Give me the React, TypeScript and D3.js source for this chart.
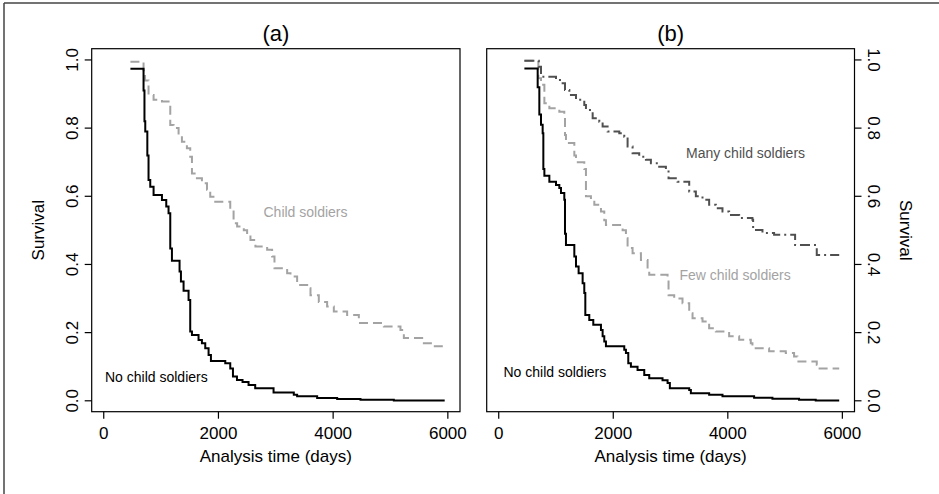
import React from "react";
import * as d3 from "d3";

// ---------- data (Kaplan-Meier step curves: time in days, survival after that time) ----------
const xTicks = [0, 2000, 4000, 6000];
const yTicks = [0, 0.2, 0.4, 0.6, 0.8, 1.0];
const END_TIME = 5945;

// Panel (a)
const noA_t = [465, 694, 710, 724, 760, 781, 811, 869, 1015, 1090, 1130, 1160, 1189, 1322, 1346, 1392, 1479, 1508, 1538, 1653, 1712, 1770, 1828, 1869, 2119, 2206, 2253, 2323, 2420, 2525, 2641, 2961, 3314, 3372, 3721, 4070, 4477, 5058];
const noA_s = [0.974, 0.91, 0.82, 0.79, 0.72, 0.648, 0.628, 0.604, 0.589, 0.57, 0.55, 0.447, 0.411, 0.379, 0.35, 0.323, 0.296, 0.203, 0.193, 0.178, 0.169, 0.154, 0.134, 0.117, 0.11, 0.095, 0.071, 0.061, 0.055, 0.046, 0.037, 0.024, 0.018, 0.013, 0.008, 0.005, 0.003, 0.001];

const csA_t = [465, 694, 720, 781, 869, 1015, 1130, 1160, 1218, 1305, 1363, 1450, 1508, 1538, 1625, 1712, 1800, 1857, 1944, 2206, 2264, 2326, 2442, 2500, 2558, 2645, 2849, 2936, 2977, 3198, 3256, 3372, 3547, 3605, 3750, 3895, 4012, 4244, 4448, 4884, 5174, 5233, 5552, 5727];
const csA_s = [0.995, 0.97, 0.94, 0.897, 0.883, 0.878, 0.87, 0.809, 0.8, 0.78, 0.76, 0.741, 0.716, 0.667, 0.653, 0.638, 0.619, 0.599, 0.584, 0.56, 0.521, 0.511, 0.5, 0.487, 0.472, 0.453, 0.443, 0.423, 0.389, 0.374, 0.365, 0.34, 0.33, 0.31, 0.29, 0.277, 0.262, 0.252, 0.228, 0.218, 0.208, 0.184, 0.169, 0.16];

// Panel (b)
const noB_t = [448, 680, 709, 738, 767, 779, 797, 884, 1000, 1058, 1087, 1145, 1157, 1174, 1320, 1349, 1395, 1465, 1494, 1512, 1581, 1651, 1785, 1814, 1843, 1872, 2192, 2221, 2262, 2308, 2424, 2541, 2628, 2860, 2948, 2988, 3326, 3355, 3674, 3907, 4459, 4779, 5244, 5535];
const noB_s = [0.975, 0.92, 0.84, 0.81, 0.785, 0.68, 0.66, 0.643, 0.633, 0.624, 0.61, 0.59, 0.49, 0.457, 0.423, 0.394, 0.374, 0.345, 0.316, 0.252, 0.237, 0.223, 0.208, 0.189, 0.174, 0.16, 0.15, 0.14, 0.11, 0.1, 0.09, 0.076, 0.066, 0.06, 0.052, 0.037, 0.032, 0.022, 0.018, 0.013, 0.009, 0.006, 0.003, 0.001];

const fewB_t = [448, 692, 738, 797, 884, 1058, 1145, 1157, 1174, 1320, 1349, 1494, 1523, 1610, 1669, 1785, 1843, 1872, 2163, 2221, 2250, 2337, 2483, 2599, 2628, 2948, 2965, 3064, 3209, 3326, 3384, 3558, 3674, 3791, 4023, 4198, 4401, 4430, 4721, 5012, 5157, 5215, 5553, 5564];
const fewB_s = [0.998, 0.946, 0.927, 0.873, 0.858, 0.848, 0.839, 0.78, 0.756, 0.72, 0.7, 0.68, 0.6, 0.59, 0.575, 0.555, 0.53, 0.516, 0.5, 0.477, 0.448, 0.433, 0.413, 0.384, 0.37, 0.36, 0.31, 0.3, 0.286, 0.257, 0.242, 0.233, 0.213, 0.203, 0.189, 0.179, 0.169, 0.154, 0.145, 0.14, 0.13, 0.115, 0.106, 0.095];

const manyB_t = [448, 700, 738, 1000, 1116, 1157, 1233, 1349, 1494, 1523, 1640, 1756, 1814, 1901, 2105, 2192, 2250, 2337, 2453, 2570, 2657, 2802, 2919, 2965, 3122, 3326, 3442, 3558, 3674, 3791, 3907, 4023, 4198, 4430, 4442, 4605, 4808, 5175, 5553];
const manyB_s = [0.998, 0.98, 0.951, 0.941, 0.932, 0.912, 0.897, 0.883, 0.868, 0.853, 0.829, 0.819, 0.805, 0.79, 0.785, 0.775, 0.746, 0.726, 0.716, 0.707, 0.697, 0.687, 0.677, 0.653, 0.643, 0.614, 0.6, 0.59, 0.575, 0.565, 0.555, 0.545, 0.536, 0.531, 0.501, 0.492, 0.487, 0.457, 0.428];

// ---------- layout ----------
const W = 939;
const H = 494;
const FONT = "'Liberation Sans', Arial, Helvetica, sans-serif";
const BOX_TOP = 48.7;
const BOX_BOTTOM = 411.7;
const X_DOMAIN: [number, number] = [-210, 6212];

type Series = { t: number[]; s: number[]; color: string; dash?: string; width: number };

function stepPoints(t: number[], s: number[]): [number, number][] {
  const pts: [number, number][] = t.map((ti, i) => [ti, s[i]]);
  pts.push([END_TIME, s[s.length - 1]]);
  return pts;
}

const yScale = d3.scaleLinear().domain([-0.032, 1.033]).range([BOX_BOTTOM, BOX_TOP]);

function Panel({
  left,
  right,
  title,
  side,
  series,
  labels,
}: {
  left: number;
  right: number;
  title: string;
  side: "left" | "right";
  series: Series[];
  labels: { text: string; x: number; y: number; color: string }[];
}) {
  const x = d3.scaleLinear().domain(X_DOMAIN).range([left, right]);
  const y = yScale;
  const line = d3
    .line<[number, number]>()
    .x((d) => x(d[0]))
    .y((d) => y(d[1]))
    .curve(d3.curveStepAfter);
  const cx = (left + right) / 2;
  const cy = (BOX_TOP + BOX_BOTTOM) / 2;
  const tickLen = 7;
  return (
    <g>
      <rect x={left} y={BOX_TOP} width={right - left} height={BOX_BOTTOM - BOX_TOP} fill="none" stroke="#000" strokeWidth={1.2} />
      {series.map((sr, i) => (
        <path
          key={i}
          d={line(stepPoints(sr.t, sr.s)) || ""}
          fill="none"
          stroke={sr.color}
          strokeWidth={sr.width}
          strokeDasharray={sr.dash}
        />
      ))}
      {/* x axis */}
      {xTicks.map((v) => (
        <g key={"x" + v}>
          <line x1={x(v)} x2={x(v)} y1={BOX_BOTTOM} y2={BOX_BOTTOM + tickLen} stroke="#000" strokeWidth={1.2} />
          <text x={x(v)} y={439.3} textAnchor="middle" fontSize={17} fontFamily={FONT} fill="#000">
            {String(v)}
          </text>
        </g>
      ))}
      <text x={cx} y={461.5} textAnchor="middle" fontSize={17} fontFamily={FONT} fill="#000">
        Analysis time (days)
      </text>
      {/* y axis */}
      {yTicks.map((v) => {
        const edge = side === "left" ? left : right;
        const dir = side === "left" ? -1 : 1;
        const lx = side === "left" ? 78 : 868;
        return (
          <g key={"y" + v}>
            <line x1={edge} x2={edge + dir * tickLen} y1={y(v)} y2={y(v)} stroke="#000" strokeWidth={1.2} />
            <text
              transform={`translate(${lx},${y(v)}) rotate(${side === "left" ? -90 : 90})`}
              textAnchor="middle"
              fontSize={17}
              fontFamily={FONT}
              fill="#000"
            >
              {v.toFixed(1)}
            </text>
          </g>
        );
      })}
      <text
        transform={`translate(${side === "left" ? 44 : 900},${cy}) rotate(${side === "left" ? -90 : 90})`}
        textAnchor="middle"
        fontSize={17}
        fontFamily={FONT}
        fill="#000"
      >
        Survival
      </text>
      <text x={cx} y={40.5} textAnchor="middle" fontSize={22} fontFamily={FONT} fill="#000">
        {title}
      </text>
      {labels.map((l, i) => (
        <text key={i} x={l.x} y={l.y} fontSize={14} fontFamily={FONT} fill={l.color}>
          {l.text}
        </text>
      ))}
    </g>
  );
}

export default function App() {
  const BLACK = "#000000";
  const LIGHT = "#a3a3a3";
  const DARK = "#505050";
  return (
    <svg
      width={W}
      height={H}
      viewBox={`0 0 ${W} ${H}`}
      style={{ position: "absolute", left: 0, top: 0, background: "#fff" }}
    >
      <rect x={0} y={0} width={W} height={H} fill="#fff" />
      <line x1={4} x2={4} y1={3} y2={H} stroke="#444" strokeWidth={1.5} />
      <line x1={4} x2={W} y1={3} y2={3} stroke="#444" strokeWidth={1.5} />
      <Panel
        left={91.7}
        right={460}
        title="(a)"
        side="left"
        series={[
          { t: csA_t, s: csA_s, color: LIGHT, dash: "9 5", width: 2 },
          { t: noA_t, s: noA_s, color: BLACK, width: 2 },
        ]}
        labels={[
          { text: "Child soldiers", x: 263.5, y: 216.5, color: LIGHT },
          { text: "No child soldiers", x: 105, y: 381.5, color: BLACK },
        ]}
      />
      <Panel
        left={486.7}
        right={854.5}
        title="(b)"
        side="right"
        series={[
          { t: fewB_t, s: fewB_s, color: LIGHT, dash: "9 5", width: 2 },
          { t: manyB_t, s: manyB_s, color: DARK, dash: "10 4 2 4", width: 2 },
          { t: noB_t, s: noB_s, color: BLACK, width: 2 },
        ]}
        labels={[
          { text: "Many child soldiers", x: 686, y: 157.5, color: DARK },
          { text: "Few child soldiers", x: 679.5, y: 280, color: LIGHT },
          { text: "No child soldiers", x: 503.5, y: 376.5, color: BLACK },
        ]}
      />
    </svg>
  );
}
